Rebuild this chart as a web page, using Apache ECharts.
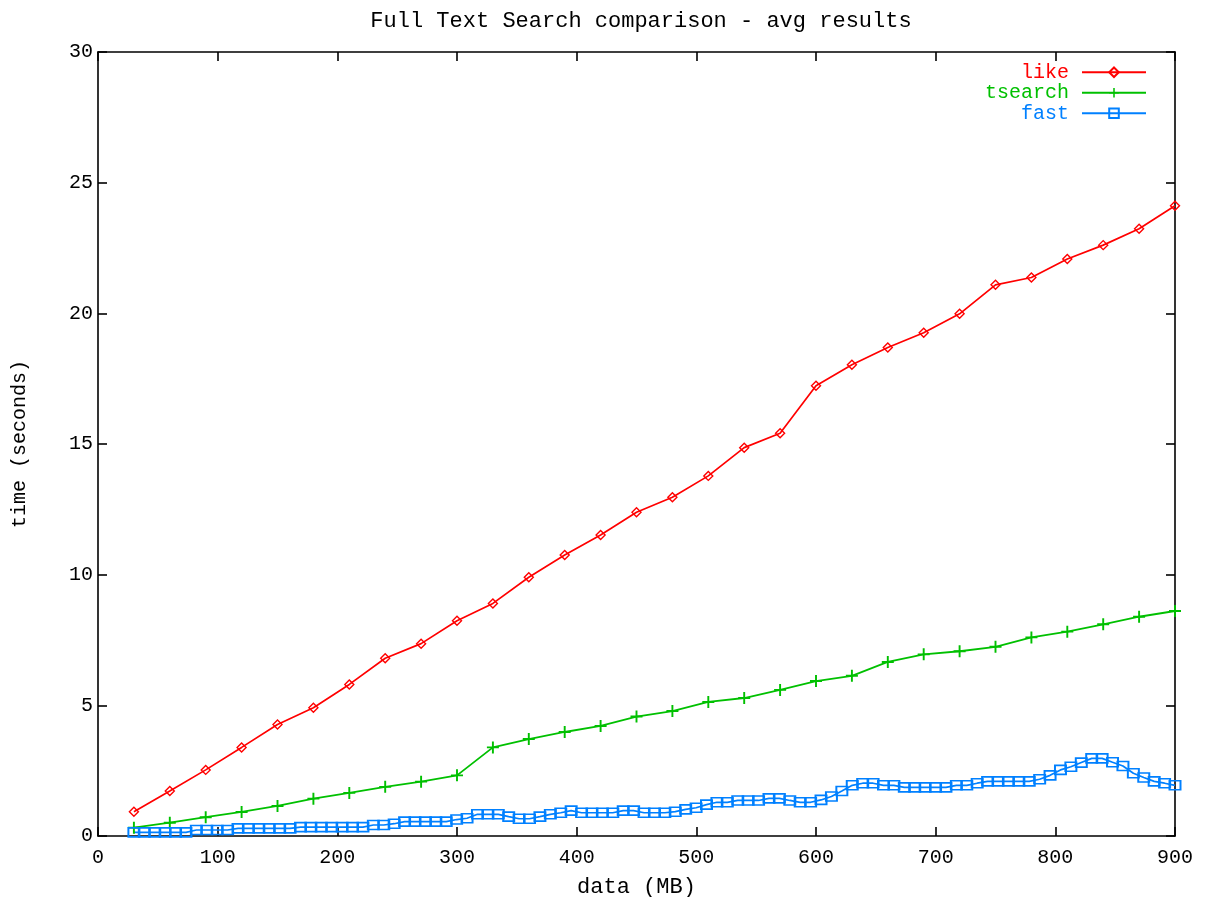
<!DOCTYPE html>
<html>
<head>
<meta charset="utf-8">
<script src="https://cdn.jsdelivr.net/npm/echarts@6/dist/echarts.min.js"></script>
<style>
html,body{margin:0;padding:0;background:#fff;}
#chart{width:1215px;height:897px;}
</style>
</head>
<body>
<div id="chart"></div>
<script>
// ---- data ----
const sizes = [30,60,90,120,150,180,210,240,270,300,330,360,390,420,450,480,510,540,570,600,630,660,690,720,750,780,810,840,870,900];
const likeTimes = [0.93,1.72,2.53,3.39,4.27,4.91,5.80,6.80,7.36,8.24,8.90,9.90,10.75,11.52,12.39,12.96,13.78,14.86,15.41,17.23,18.03,18.69,19.26,19.98,21.09,21.37,22.08,22.61,23.24,24.12];
const tsearchTimes = [0.32,0.51,0.72,0.92,1.15,1.43,1.65,1.88,2.08,2.32,3.39,3.71,3.98,4.21,4.57,4.78,5.13,5.28,5.59,5.93,6.13,6.66,6.95,7.07,7.24,7.60,7.82,8.10,8.39,8.61];
const fastSizes = [30,38.7,47.4,56.1,64.8,73.5,82.2,90.9,99.6,108.3,117,125.7,134.4,143.1,151.8,160.5,169.2,177.9,186.6,195.3,204,212.7,221.4,230.1,238.8,247.5,256.2,264.9,273.6,282.3,291,299.7,308.4,317.1,325.8,334.5,343.2,351.9,360.6,369.3,378,386.7,395.4,404.1,412.8,421.5,430.2,438.9,447.6,456.3,465,473.7,482.4,491.1,499.8,508.5,517.2,525.9,534.6,543.3,552,560.7,569.4,578.1,586.8,595.5,604.2,612.9,621.6,630.3,639,647.7,656.4,665.1,673.8,682.5,691.2,699.9,708.6,717.3,726,734.7,743.4,752.1,760.8,769.5,778.2,786.9,795.6,804.3,813,821.7,830.4,839.1,847.8,856.5,865.2,873.9,882.6,891.3,900];
const fastTimes = [0.14,0.14,0.14,0.14,0.14,0.14,0.23,0.23,0.23,0.23,0.29,0.29,0.29,0.29,0.29,0.29,0.34,0.34,0.34,0.34,0.34,0.34,0.34,0.42,0.42,0.47,0.55,0.55,0.55,0.55,0.55,0.63,0.68,0.83,0.83,0.83,0.74,0.66,0.66,0.74,0.83,0.89,0.97,0.89,0.89,0.89,0.89,0.97,0.97,0.89,0.89,0.89,0.93,1.02,1.08,1.20,1.29,1.29,1.36,1.36,1.36,1.44,1.44,1.36,1.29,1.29,1.38,1.51,1.72,1.94,2.02,2.02,1.94,1.94,1.86,1.86,1.86,1.86,1.86,1.94,1.94,2.02,2.09,2.09,2.09,2.09,2.09,2.17,2.32,2.53,2.65,2.81,2.97,2.97,2.82,2.68,2.40,2.24,2.09,2.02,1.94];
const seriesNames = ['like','tsearch','fast'];
const titleText = 'Full Text Search comparison - avg results';
const xName = 'data (MB)';
const yName = 'time (seconds)';

const FONT = '"Liberation Mono", "DejaVu Sans Mono", monospace';
const RED = '#ff0000', GREEN = '#00c000', BLUE = '#0080ff';

function pairs(xs, ys){ return xs.map((x,i)=>[x, ys[i]]); }
function axisLine(){ return {show:true, onZero:false, lineStyle:{color:'#000', width:1.6}}; }
function axisTick(){ return {show:true, inside:true, length:9, lineStyle:{color:'#000', width:1.6}}; }

const chart = echarts.init(document.getElementById('chart'), null, {renderer:'canvas'});
const plusPath = 'path://M0,4.2L10,4.2L10,5.8L0,5.8Z M4.2,0L5.8,0L5.8,10L4.2,10Z';

chart.setOption({
  animation:false,
  backgroundColor:'#fff',
  title:{
    text:titleText, left:636, top:5, textAlign:'center',
    textStyle:{fontFamily:FONT, fontSize:22, fontWeight:'normal', color:'#000'}
  },
  legend:{
    orient:'vertical', right:63, top:57, align:'right',
    itemWidth:64, itemHeight:12, itemGap:0,
    textStyle:{fontFamily:FONT, fontSize:20, lineHeight:20.5, padding:[0,8,0,0]},
    data:[
      {name:'like', textStyle:{color:RED}},
      {name:'tsearch', textStyle:{color:GREEN}},
      {name:'fast', textStyle:{color:BLUE}}
    ]
  },
  grid:{left:98, right:40, top:52, bottom:61, containLabel:false, outerBoundsMode:'none'},
  xAxis:[
    {
      type:'value', min:0, max:900, interval:100, position:'bottom',
      axisLine:axisLine(), axisTick:axisTick(), splitLine:{show:false},
      name:xName, nameLocation:'middle', nameGap:40,
      nameTextStyle:{fontFamily:FONT, fontSize:22, color:'#000'},
      axisLabel:{fontFamily:FONT, fontSize:20, color:'#000', margin:12}
    },
    {
      type:'value', min:0, max:900, interval:100, position:'top',
      axisLine:axisLine(), axisTick:axisTick(), splitLine:{show:false},
      axisLabel:{show:false}
    }
  ],
  yAxis:[
    {
      type:'value', min:0, max:30, interval:5, position:'left',
      axisLine:axisLine(), axisTick:axisTick(), splitLine:{show:false},
      name:yName, nameLocation:'middle', nameGap:68, nameRotate:90,
      nameTextStyle:{fontFamily:FONT, fontSize:20, color:'#000'},
      axisLabel:{fontFamily:FONT, fontSize:20, color:'#000', margin:5}
    },
    {
      type:'value', min:0, max:30, interval:5, position:'right',
      axisLine:axisLine(), axisTick:axisTick(), splitLine:{show:false},
      axisLabel:{show:false}
    }
  ],
  series:[
    {
      name:seriesNames[0], type:'line', data:pairs(sizes, likeTimes),
      xAxisIndex:0, yAxisIndex:0,
      symbol:'diamond', symbolSize:[9,9], showAllSymbol:true,
      lineStyle:{color:RED, width:1.7},
      itemStyle:{color:'rgba(255,255,255,0)', borderColor:RED, borderWidth:1.4}
    },
    {
      name:seriesNames[1], type:'line', data:pairs(sizes, tsearchTimes),
      xAxisIndex:1, yAxisIndex:1,
      symbol:plusPath, symbolSize:[12,12], showAllSymbol:true,
      lineStyle:{color:GREEN, width:1.8},
      itemStyle:{color:GREEN}
    },
    {
      name:seriesNames[2], type:'line', data:pairs(fastSizes, fastTimes),
      xAxisIndex:0, yAxisIndex:0,
      symbol:'rect', symbolSize:[11,9], showAllSymbol:true,
      lineStyle:{color:BLUE, width:1.7},
      itemStyle:{color:'rgba(255,255,255,0)', borderColor:BLUE, borderWidth:1.8}
    }
  ]
});
</script>
</body>
</html>
